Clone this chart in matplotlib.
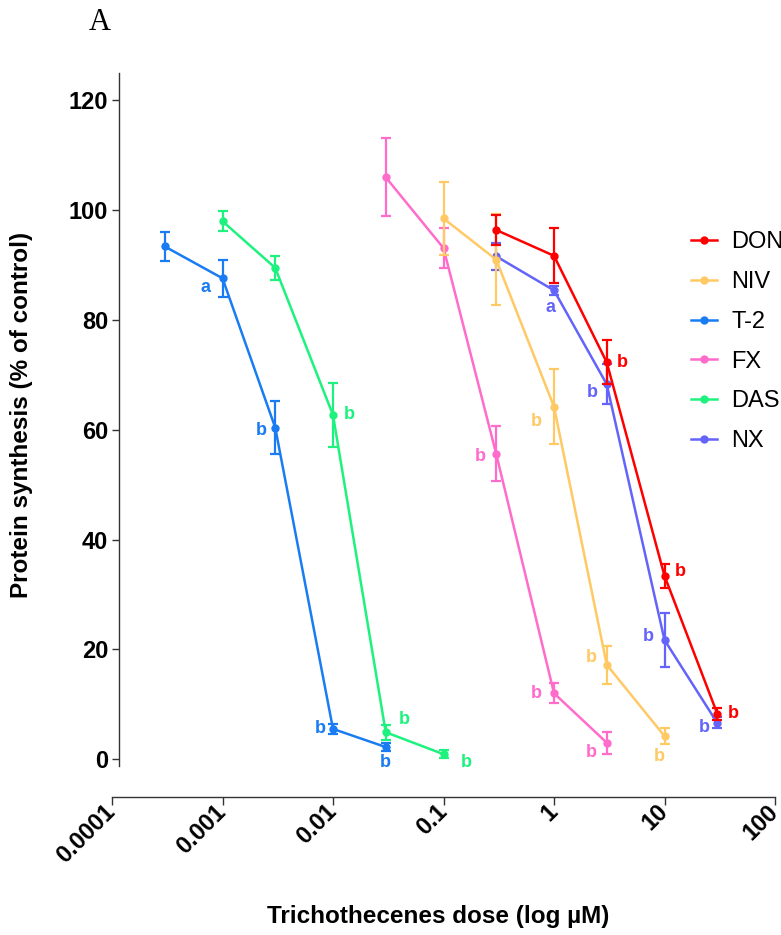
import matplotlib.pyplot as plt
from matplotlib.ticker import FixedLocator, NullLocator

plt.rcParams["font.family"] = ["Liberation Sans", "DejaVu Sans"]

# doses in uM, mean protein synthesis (% of control), error, significance letters
names = ["DON", "NIV", "T-2", "FX", "DAS", "NX"]

doses_don = [0.3, 1, 3, 10, 30]
mean_don = [96.4, 91.7, 72.3, 33.4, 8.3]
err_don = [2.8, 5.0, 4.0, 2.2, 1.1]
letters_don = ["", "", "b", "b", "b"]

doses_niv = [0.1, 0.3, 1, 3, 10]
mean_niv = [98.5, 91.0, 64.2, 17.2, 4.2]
err_niv = [6.7, 8.3, 6.8, 3.5, 1.5]
letters_niv = ["", "", "b", "b", "b"]

doses_t2 = [0.0003, 0.001, 0.003, 0.01, 0.03]
mean_t2 = [93.4, 87.6, 60.4, 5.5, 2.2]
err_t2 = [2.7, 3.4, 4.8, 0.9, 0.8]
letters_t2 = ["", "a", "b", "b", "b"]

doses_fx = [0.03, 0.1, 0.3, 1, 3]
mean_fx = [106.0, 93.1, 55.6, 12.0, 3.0]
err_fx = [7.1, 3.7, 5.0, 1.8, 2.0]
letters_fx = ["", "", "b", "b", "b"]

doses_das = [0.001, 0.003, 0.01, 0.03, 0.1]
mean_das = [98.0, 89.5, 62.7, 4.9, 0.9]
err_das = [1.8, 2.2, 5.9, 1.4, 0.7]
letters_das = ["", "", "b", "b", "b"]

doses_nx = [0.3, 1, 3, 10, 30]
mean_nx = [91.6, 85.4, 68.3, 21.7, 6.6]
err_nx = [2.5, 0.8, 3.6, 4.9, 1.0]
letters_nx = ["", "a", "b", "b", "b"]

x_ticks = [0.0001, 0.001, 0.01, 0.1, 1, 10, 100]
x_tick_labels = ["0.0001", "0.001", "0.01", "0.1", "1", "10", "100"]
y_ticks = [0, 20, 40, 60, 80, 100, 120]

# styling / layout (not data)
colors = {
    "DON": "#ff0000",
    "NIV": "#ffc966",
    "T-2": "#1a7cf2",
    "FX": "#ff6ccb",
    "DAS": "#1ef27e",
    "NX": "#6464fa",
}

# letter offsets in pixels (dx right, dy down) relative to each point
letter_offsets = {
    "DON": [None, None, (16, 0), (16, -4), (16, 0)],
    "NIV": [None, None, (-18, 15), (-15, -7), (-5, 20)],
    "T-2": [None, (-17, 9), (-14, 3), (-13, 0), (0, 15)],
    "FX": [None, None, (-16, 3), (-18, 0), (-15, 10)],
    "DAS": [None, None, (16, 0), (19, -13), (23, 8)],
    "NX": [None, (-3, 17), (-14, 8), (-16, -4), (-13, 5)],
}

series = {
    "DON": (doses_don, mean_don, err_don, letters_don),
    "NIV": (doses_niv, mean_niv, err_niv, letters_niv),
    "T-2": (doses_t2, mean_t2, err_t2, letters_t2),
    "FX": (doses_fx, mean_fx, err_fx, letters_fx),
    "DAS": (doses_das, mean_das, err_das, letters_das),
    "NX": (doses_nx, mean_nx, err_nx, letters_nx),
}

fig = plt.figure(figsize=(7.81, 9.35), dpi=100)
ax = fig.add_axes([112 / 781, 138 / 935, 663 / 781, 724 / 935])

z_order = {"NX": 2, "DAS": 3, "FX": 4, "T-2": 5, "NIV": 6, "DON": 7}

handles = []
for name in names:
    doses, mean, err, letters = series[name]
    c = colors[name]
    z = z_order[name]
    ax.errorbar(doses, mean, yerr=err, fmt="none", ecolor=c,
                elinewidth=1.6, capsize=3.8, capthick=1.6, zorder=z)
    line, = ax.plot(doses, mean, color=c, lw=1.8, marker="o",
                    markersize=5, label=name, zorder=z)
    handles.append(line)

    for i, letter in enumerate(letters):
        if not letter:
            continue
        dx, dy = letter_offsets[name][i]
        ax.annotate(letter, (doses[i], mean[i]), xytext=(dx, -dy),
                    textcoords="offset pixels", ha="center", va="center",
                    color=c, fontsize=13, fontweight="bold", zorder=8)

ax.set_xscale("log")
ax.set_xlim(1e-4, 100)
ax.set_ylim(-6.9, 125)

# spines first: moving a spine resets the tick labels
for side in ["top", "right"]:
    ax.spines[side].set_visible(False)
ax.spines["left"].set_position(("data", 1.16e-4))
ax.spines["left"].set_bounds(-1.2, 125)
ax.spines["left"].set_color("#333333")
ax.spines["bottom"].set_color("#333333")
ax.spines["left"].set_linewidth(1.0)
ax.spines["bottom"].set_linewidth(1.0)

ax.xaxis.set_major_locator(FixedLocator(x_ticks))
ax.xaxis.set_minor_locator(NullLocator())
ax.set_xticklabels(x_tick_labels, rotation=45, ha="right", va="center",
                   rotation_mode="anchor", fontsize=17, fontweight="bold")
ax.set_yticks(y_ticks)
ax.set_yticklabels([str(v) for v in y_ticks], fontsize=17, fontweight="bold")

ax.tick_params(axis="y", length=5, width=1.0, color="#333333", pad=3)
ax.tick_params(axis="x", length=6, width=1.0, color="#333333", pad=2)

ax.set_xlabel("Trichothecenes dose (log µM)", fontsize=17.5, fontweight="bold")
ax.xaxis.set_label_coords(0.492, -0.149)
ax.xaxis.label.set_va("top")
ax.set_ylabel("Protein synthesis (% of control)", fontsize=17.5,
              fontweight="bold")
ax.yaxis.set_label_coords(-0.119, 0.528)

ax.legend(handles=handles, loc="upper left",
          bbox_to_anchor=(682 / 781, 1 - 222 / 935),
          bbox_transform=fig.transFigure, frameon=False, fontsize=17,
          handlelength=1.1, handletextpad=0.6, labelspacing=0.75,
          borderaxespad=0)

fig.text(100 / 781, 1 - 22 / 935, "A", family="Liberation Serif",
         fontsize=22, ha="center", va="center")

ax.patch.set_visible(False)
plt.savefig("out.png", dpi=100)
plt.close()
